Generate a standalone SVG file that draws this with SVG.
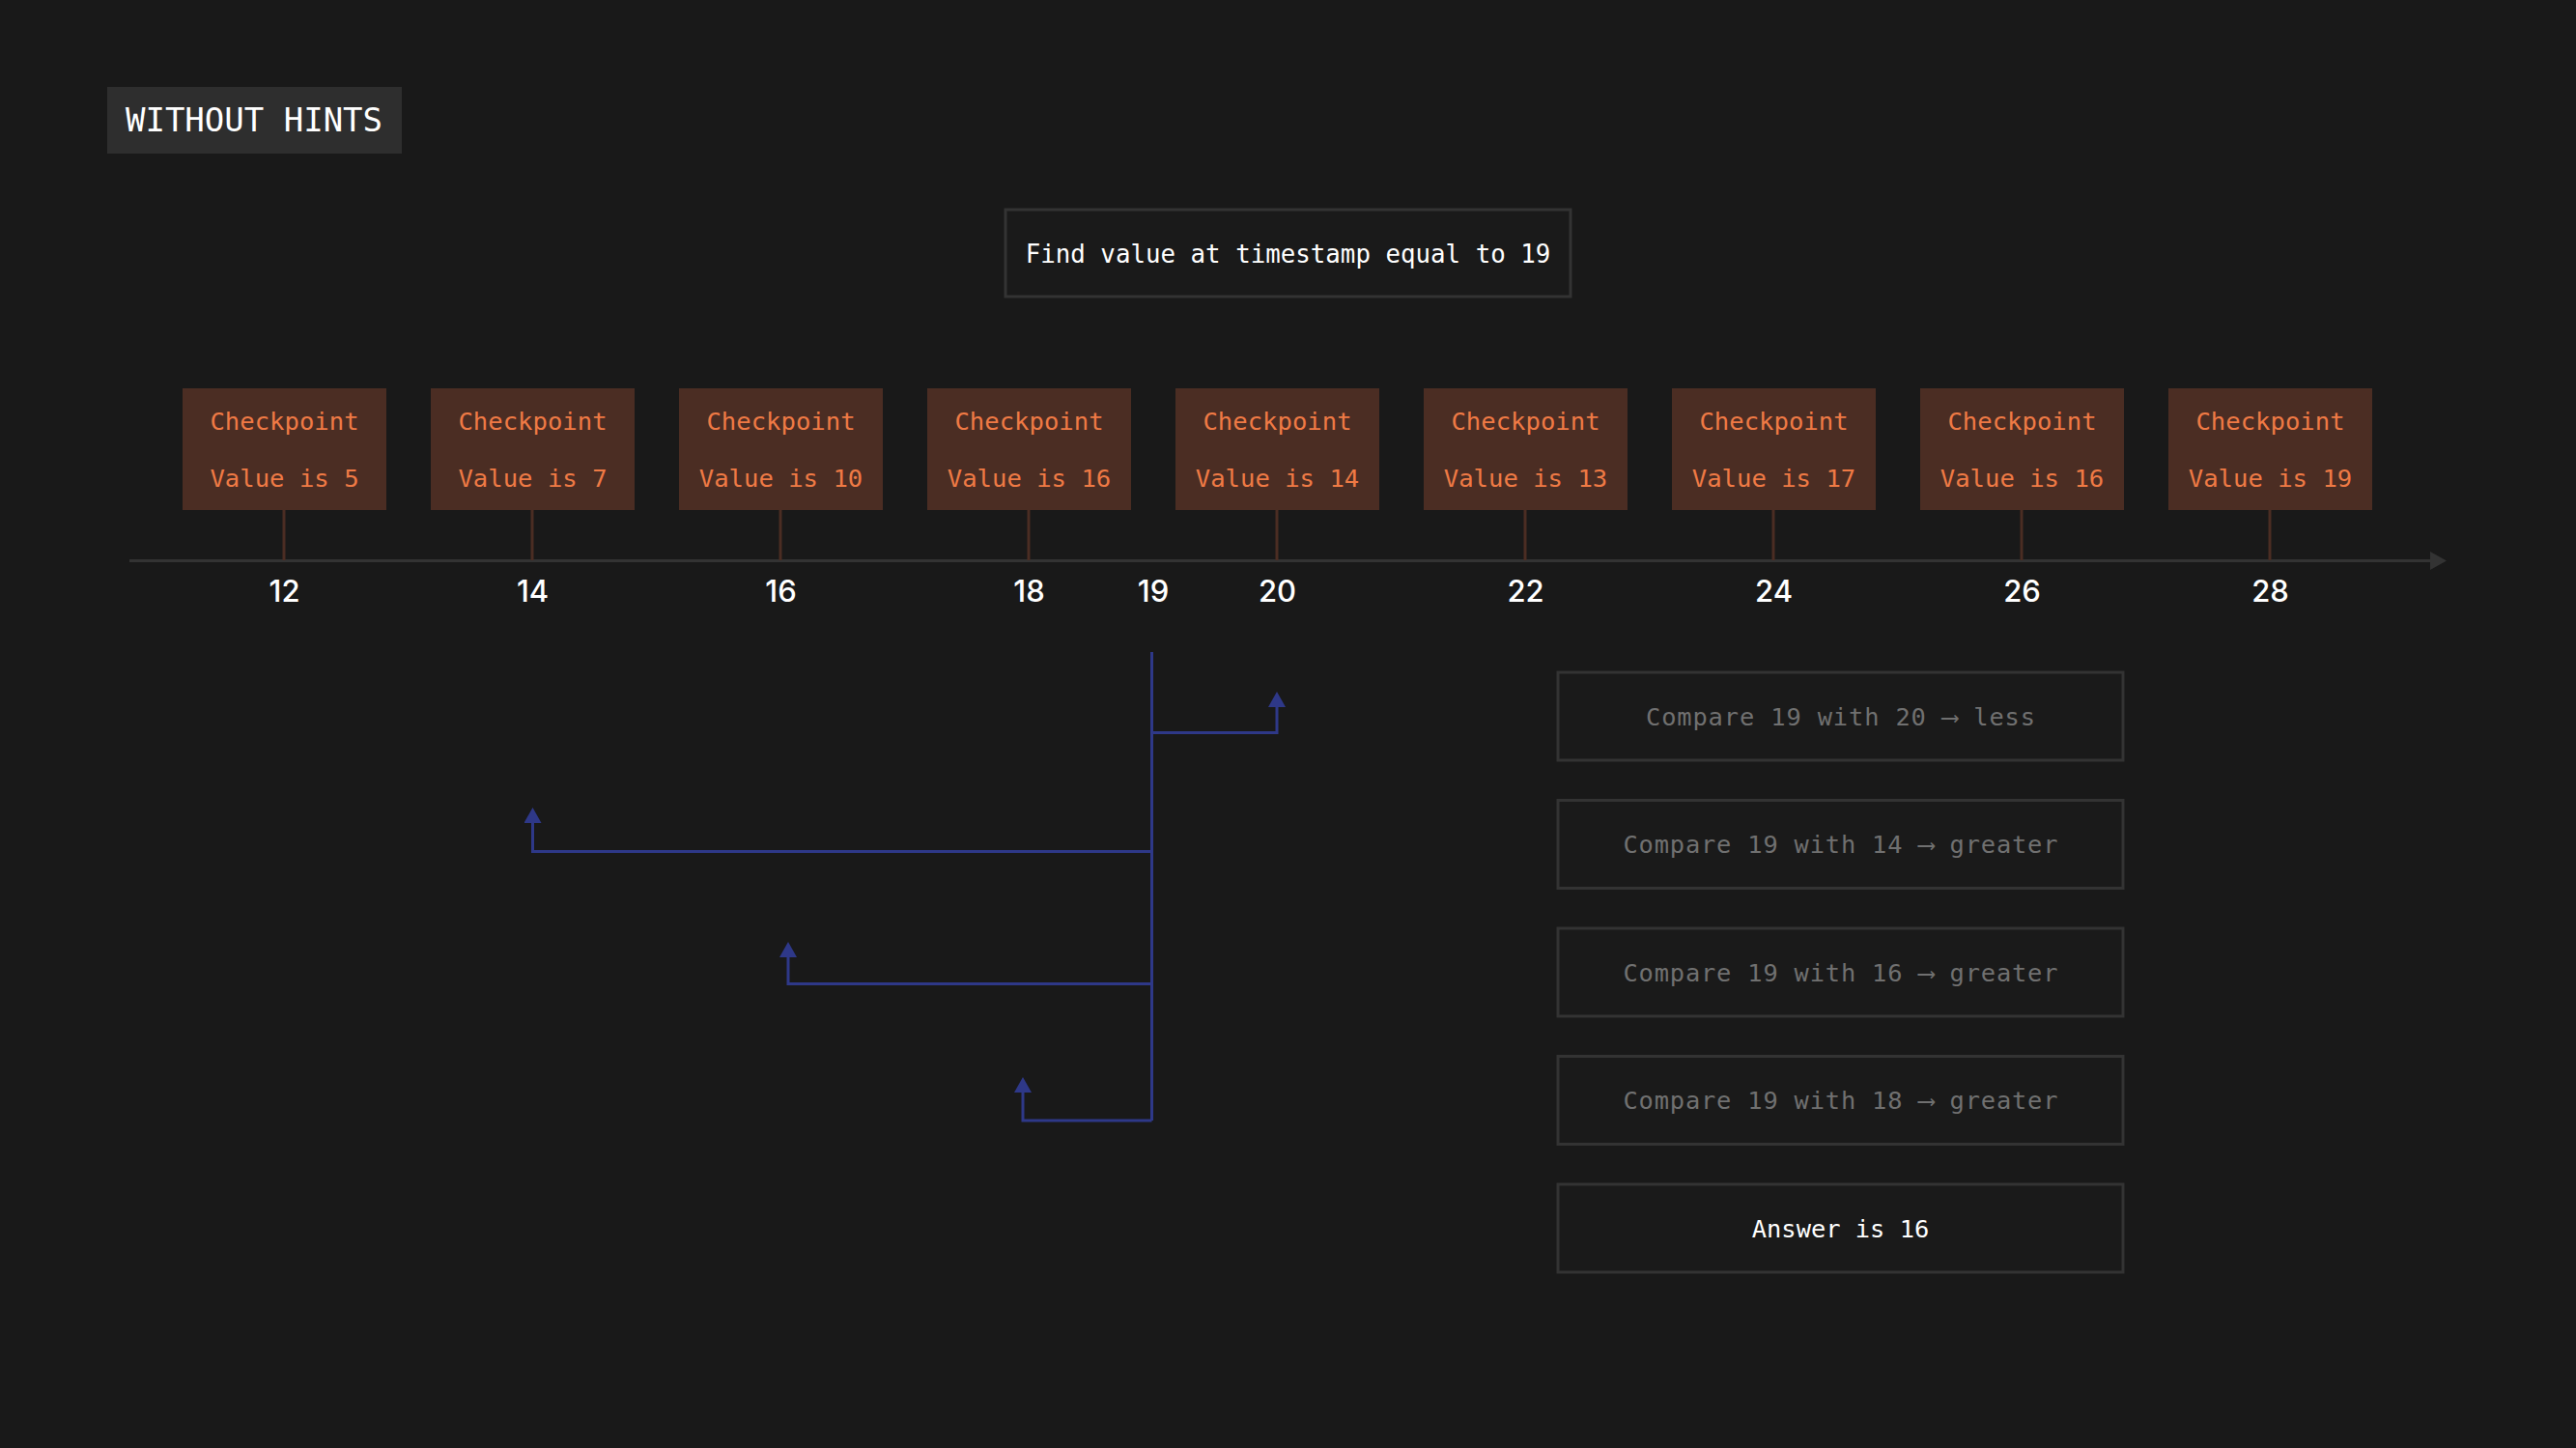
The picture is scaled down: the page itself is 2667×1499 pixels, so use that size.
<svg xmlns="http://www.w3.org/2000/svg" width="2667" height="1499" viewBox="0 0 2667 1499">
<defs>
<style>
.mono{font-family:"DejaVu Sans Mono","Liberation Mono",monospace;}
.cp rect{fill:#4b2d23;}
.cp line{stroke:#4b2d23;stroke-width:3;}
.cp text{fill:#ef7a45;font-size:25.6px;text-anchor:middle;}
.lbl{font-family:Inter,"Liberation Sans",sans-serif;font-size:31px;font-weight:500;fill:#ffffff;text-anchor:middle;}
.step rect{fill:#1a1a1a;stroke:#333333;stroke-width:3;}
.step text{fill:#707070;font-size:25.4px;text-anchor:middle;}
.conn path{fill:none;stroke:#2e3888;stroke-width:3;}
</style>
<marker id="ah" viewBox="0 0 16 18" refX="0" refY="9" markerWidth="16" markerHeight="18" markerUnits="userSpaceOnUse" orient="auto">
<path d="M0,0 L16,9 L0,18 Z" fill="#2e3888"/>
</marker>
</defs>
<rect width="2667" height="1499" fill="#191919"/>

<g id="title">
<rect x="111" y="90" width="305" height="69" fill="#2e2e2e"/>
<text class="mono" x="263" y="136" font-size="34" fill="#ffffff" text-anchor="middle">WITHOUT HINTS</text>
</g>

<g id="query">
<rect x="1041" y="217" width="585" height="90" fill="#1a1a1a" stroke="#333333" stroke-width="3"/>
<text class="mono" x="1333.5" y="272" font-size="25.8" fill="#ffffff" text-anchor="middle">Find value at timestamp equal to 19</text>
</g>

<g id="axis">
<line x1="134" y1="580.5" x2="2518" y2="580.5" stroke="#333333" stroke-width="3"/>
<path d="M2516,571 L2533,580.5 L2516,590 Z" fill="#333333"/>
</g>

<g id="cp12" class="cp mono"><line x1="294" y1="528" x2="294" y2="580"/><rect x="189" y="402" width="211" height="126"/><text x="294.5" y="445">Checkpoint</text><text x="294.5" y="504">Value is 5</text></g>
<g id="cp14" class="cp mono"><line x1="551" y1="528" x2="551" y2="580"/><rect x="446" y="402" width="211" height="126"/><text x="551.5" y="445">Checkpoint</text><text x="551.5" y="504">Value is 7</text></g>
<g id="cp16" class="cp mono"><line x1="808" y1="528" x2="808" y2="580"/><rect x="703" y="402" width="211" height="126"/><text x="808.5" y="445">Checkpoint</text><text x="808.5" y="504">Value is 10</text></g>
<g id="cp18" class="cp mono"><line x1="1065" y1="528" x2="1065" y2="580"/><rect x="960" y="402" width="211" height="126"/><text x="1065.5" y="445">Checkpoint</text><text x="1065.5" y="504">Value is 16</text></g>
<g id="cp20" class="cp mono"><line x1="1322" y1="528" x2="1322" y2="580"/><rect x="1217" y="402" width="211" height="126"/><text x="1322.5" y="445">Checkpoint</text><text x="1322.5" y="504">Value is 14</text></g>
<g id="cp22" class="cp mono"><line x1="1579" y1="528" x2="1579" y2="580"/><rect x="1474" y="402" width="211" height="126"/><text x="1579.5" y="445">Checkpoint</text><text x="1579.5" y="504">Value is 13</text></g>
<g id="cp24" class="cp mono"><line x1="1836" y1="528" x2="1836" y2="580"/><rect x="1731" y="402" width="211" height="126"/><text x="1836.5" y="445">Checkpoint</text><text x="1836.5" y="504">Value is 17</text></g>
<g id="cp26" class="cp mono"><line x1="2093" y1="528" x2="2093" y2="580"/><rect x="1988" y="402" width="211" height="126"/><text x="2093.5" y="445">Checkpoint</text><text x="2093.5" y="504">Value is 16</text></g>
<g id="cp28" class="cp mono"><line x1="2350" y1="528" x2="2350" y2="580"/><rect x="2245" y="402" width="211" height="126"/><text x="2350.5" y="445">Checkpoint</text><text x="2350.5" y="504">Value is 19</text></g>

<g id="labels">
<text class="lbl" x="294.5" y="623">12</text>
<text class="lbl" x="551.5" y="623">14</text>
<text class="lbl" x="808.5" y="623">16</text>
<text class="lbl" x="1065.5" y="623">18</text>
<text class="lbl" x="1194" y="623">19</text>
<text class="lbl" x="1322.5" y="623">20</text>
<text class="lbl" x="1579.5" y="623">22</text>
<text class="lbl" x="1836.5" y="623">24</text>
<text class="lbl" x="2093.5" y="623">26</text>
<text class="lbl" x="2350.5" y="623">28</text>
</g>

<g id="connectors" class="conn">
<path d="M1192.5,675 L1192.5,1160"/>
<path d="M1192.5,758.5 L1322,758.5 L1322,732" marker-end="url(#ah)"/>
<path d="M1192.5,881.5 L551.5,881.5 L551.5,852" marker-end="url(#ah)"/>
<path d="M1192.5,1018.5 L816,1018.5 L816,991" marker-end="url(#ah)"/>
<path d="M1192.5,1160 L1059,1160 L1059,1131" marker-end="url(#ah)"/>
</g>

<g id="step1" class="step mono"><rect x="1613" y="696" width="585" height="91"/><text x="1905.5" y="750.5" textLength="403" lengthAdjust="spacing">Compare 19 with 20 ⟶ less</text></g>
<g id="step2" class="step mono"><rect x="1613" y="828.5" width="585" height="91"/><text x="1905.5" y="883" textLength="450" lengthAdjust="spacing">Compare 19 with 14 ⟶ greater</text></g>
<g id="step3" class="step mono"><rect x="1613" y="961" width="585" height="91"/><text x="1905.5" y="1015.5" textLength="450" lengthAdjust="spacing">Compare 19 with 16 ⟶ greater</text></g>
<g id="step4" class="step mono"><rect x="1613" y="1093.5" width="585" height="91"/><text x="1905.5" y="1148" textLength="450" lengthAdjust="spacing">Compare 19 with 18 ⟶ greater</text></g>
<g id="answer" class="step mono"><rect x="1613" y="1226" width="585" height="91"/><text x="1905.5" y="1280.5" style="fill:#ffffff">Answer is 16</text></g>
</svg>
